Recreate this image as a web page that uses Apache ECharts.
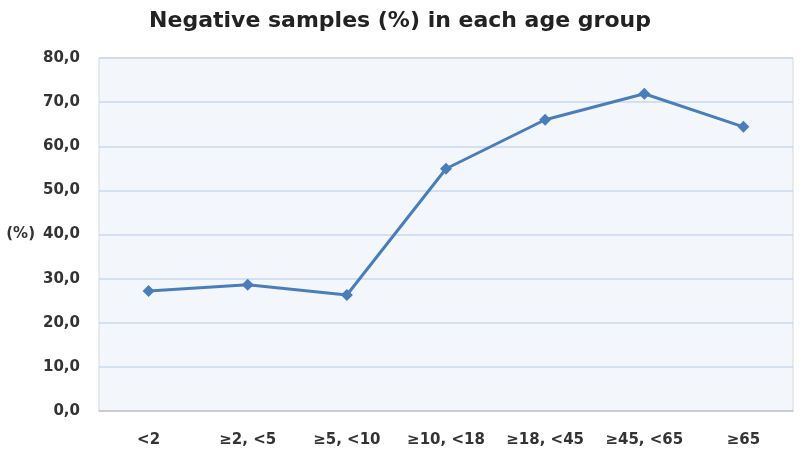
<!DOCTYPE html>
<html>
<head>
<meta charset="utf-8">
<script src="https://cdn.jsdelivr.net/npm/echarts@6/dist/echarts.min.js"></script>
<style>html,body{margin:0;padding:0;background:#fff}#c{width:800px;height:459px}</style>
</head>
<body>
<div id="c"></div>
<script>
var categories = ['<2', '\u22652, <5', '\u22655, <10', '\u226510, <18', '\u226518, <45', '\u226545, <65', '\u226565'];
var negativePct = [27.2, 28.6, 26.3, 54.9, 66.0, 71.9, 64.4];
var yMin = 0, yMax = 80, yStep = 10;

var FONT = 'DejaVu Sans';
var chart = echarts.init(document.getElementById('c'));
chart.setOption({
  animation: false,
  title: {
    text: 'Negative samples (%) in each age group',
    left: 'center', top: 5,
    textStyle: { fontFamily: FONT, fontWeight: 'bold', fontSize: 22, color: '#222' }
  },
  grid: { left: 99, right: 7, top: 58, bottom: 48, outerBoundsMode: 'none', containLabel: false,
    show: true, backgroundColor: '#f3f7fc', borderColor: '#d4d9e0', borderWidth: 1 },
  xAxis: {
    type: 'category', data: categories, boundaryGap: true,
    axisLine: { lineStyle: { color: '#c8c8c8', width: 1.5 } },
    axisTick: { show: false },
    axisLabel: { margin: 22, fontFamily: FONT, fontWeight: 'bold', fontSize: 15, color: '#333', interval: 0, hideOverlap: false }
  },
  yAxis: {
    type: 'value', min: yMin, max: yMax, interval: yStep,
    name: '(%)', nameLocation: 'middle', nameRotate: 0, nameGap: 64,
    nameTextStyle: { fontFamily: FONT, fontWeight: 'bold', fontSize: 15, color: '#333' },
    axisLine: { show: false }, axisTick: { show: false },
    axisLabel: { margin: 19, fontFamily: FONT, fontWeight: 'bold', fontSize: 15, color: '#333',
      formatter: function (v) { return v.toFixed(1).replace('.', ','); } },
    splitLine: { lineStyle: { color: '#c9d9ef', width: 1.5 } }
  },
  series: [{
    type: 'line', data: negativePct,
    symbol: 'diamond', symbolSize: 12,
    lineStyle: { color: '#4a7ebb', width: 3 },
    itemStyle: { color: '#4a7ebb' }
  }]
});
</script>
</body>
</html>
